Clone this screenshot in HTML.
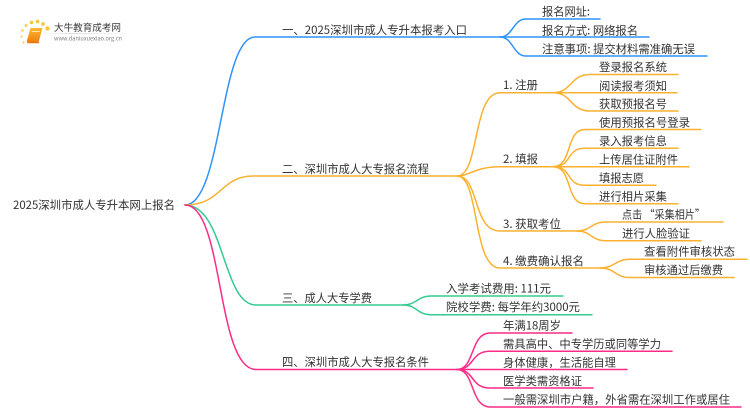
<!DOCTYPE html>
<html lang="zh"><head><meta charset="utf-8"><style>
html,body{margin:0;padding:0;background:#fff;width:750px;height:410px;overflow:hidden}
svg{display:block}
text{font-family:"Noto Sans CJK SC","DejaVu Sans",sans-serif;font-size:11.4px;fill:#333;dominant-baseline:central}
path{fill:none;stroke-width:1.5;stroke-linecap:round}
.b path{stroke:#2f93fb}.o path{stroke:#fbb12f}.g path{stroke:#35cb90}.p path{stroke:#fb2c85}
</style></head><body>
<svg width="750" height="410" viewBox="0 0 750 410" xmlns="http://www.w3.org/2000/svg">
<defs>
<linearGradient id="lg" x1="0" y1="0" x2="1" y2="0"><stop offset="0" stop-color="#ddd" stop-opacity="0"/><stop offset=".3" stop-color="#ddd"/><stop offset="1" stop-color="#ddd" stop-opacity="0"/></linearGradient>
<linearGradient id="bk" x1="0" y1="0" x2="0" y2="1"><stop offset="0" stop-color="#fdb92f"/><stop offset="1" stop-color="#ee7d10"/></linearGradient>
</defs>
<!-- logo -->
<g fill="#fbc63f">
<circle cx="47.5" cy="28.5" r="2.2"/><circle cx="43" cy="24" r="1.9"/><circle cx="37.5" cy="21.5" r="1.9"/><circle cx="31.5" cy="22.5" r="1.8"/><circle cx="26" cy="25.5" r="1.4"/><circle cx="22.5" cy="30.5" r="1.2"/><circle cx="21.5" cy="36.5" r="1"/><circle cx="23.5" cy="42.5" r="1"/>
</g>
<path d="M30.5 28H42.5L38.5 42.5H27.5Q26.5 42.5 27 40.5Z" style="fill:url(#bk);stroke:none"/>
<path d="M28 42.5H38.5" style="stroke:#e9760f"/>
<path d="M32 31.5H39.5" style="stroke:#ffe9a8;stroke-width:1"/>
<rect x="45" y="33" width="88" height="1" fill="url(#lg)"/>
<text x="54" y="27" style="font-size:9.7px;fill:#3c3c3c" textLength="67" lengthAdjust="spacingAndGlyphs">大牛教育成考网</text>
<text x="54" y="38.5" style="font-size:5.6px;fill:#808080" textLength="68" lengthAdjust="spacingAndGlyphs">www.daniuxuexiao.org.cn</text>

<g class="b">
<path d="M185 205C222 205 220 37 255 37H500"/>
<path d="M500 37C513 37 513 19 526 19H600"/>
<path d="M500 37H649"/>
<path d="M500 37C513 37 513 56 526 56H707"/>
</g>
<g class="o">
<path d="M185 205C222 205 220 176 253 176H457"/>
<path d="M457 176C480 176 472 92.7 500 92.7H553"/>
<path d="M457 176C470 176 475 166.7 500 166.7H553"/>
<path d="M457 176C480 176 472 231 500 231H577"/>
<path d="M457 176C480 176 472 268 500 268H600"/>
<path d="M553 92.7C572 92.7 570 74.5 590 74.5H678"/>
<path d="M553 92.7H677"/>
<path d="M553 92.7C572 92.7 570 111 590 111H678"/>
<path d="M553 166.7C573 166.7 565 129.5 585 129.5H701"/>
<path d="M553 166.7C573 166.7 565 148.3 585 148.3H678"/>
<path d="M553 166.7H689"/>
<path d="M553 166.7C573 166.7 565 185.3 585 185.3H656"/>
<path d="M553 166.7C573 166.7 565 203.7 585 203.7H678"/>
<path d="M577 231C591 231 591 222 606 222H723"/>
<path d="M577 231C591 231 591 240.7 606 240.7H701"/>
<path d="M600 268C615 268 615 259.3 630 259.3H747"/>
<path d="M600 268C615 268 615 277.5 630 277.5H734"/>
</g>
<g class="g">
<path d="M185 205C225 205 222 305 256 305H403"/>
<path d="M403 305C417 305 417 296 431 296H563"/>
<path d="M403 305C417 305 417 314.7 431 314.7H592"/>
</g>
<g class="p">
<path d="M185 205C224 205 216 369.5 256 369.5H457"/>
<path d="M457 369.5C475 369.5 470 333 490 333H572"/>
<path d="M457 369.5C475 369.5 470 351.3 490 351.3H672"/>
<path d="M457 369.5H627"/>
<path d="M457 369.5C475 369.5 470 388 490 388H593"/>
<path d="M457 369.5C475 369.5 470 407 490 407H741"/>
</g>

<text x="13" y="205" textLength="162" lengthAdjust="spacingAndGlyphs">2025深圳市成人专升本网上报名</text>
<text x="282" y="30" textLength="185" lengthAdjust="spacingAndGlyphs">一、2025深圳市成人专升本报考入口</text>
<text x="282" y="169" textLength="147" lengthAdjust="spacingAndGlyphs">二、深圳市成人大专报名流程</text>
<text x="282" y="298" textLength="90" lengthAdjust="spacingAndGlyphs">三、成人大专学费</text>
<text x="282" y="362" textLength="147" lengthAdjust="spacingAndGlyphs">四、深圳市成人大专报名条件</text>

<text x="542" y="11.7" textLength="48" lengthAdjust="spacingAndGlyphs">报名网址:</text>
<text x="542" y="30.3" textLength="96" lengthAdjust="spacingAndGlyphs">报名方式: 网络报名</text>
<text x="542" y="49" textLength="153" lengthAdjust="spacingAndGlyphs">注意事项: 提交材料需准确无误</text>

<text x="503" y="85" textLength="35" lengthAdjust="spacingAndGlyphs">1. 注册</text>
<text x="503" y="159" textLength="35" lengthAdjust="spacingAndGlyphs">2. 填报</text>
<text x="503" y="224" textLength="58" lengthAdjust="spacingAndGlyphs">3. 获取考位</text>
<text x="503" y="261" textLength="81" lengthAdjust="spacingAndGlyphs">4. 缴费确认报名</text>

<text x="599" y="67" textLength="68" lengthAdjust="spacingAndGlyphs">登录报名系统</text>
<text x="599" y="86" textLength="68" lengthAdjust="spacingAndGlyphs">阅读报考须知</text>
<text x="599" y="104" textLength="68" lengthAdjust="spacingAndGlyphs">获取预报名号</text>
<text x="599" y="122.5" textLength="91" lengthAdjust="spacingAndGlyphs">使用预报名号登录</text>
<text x="599" y="141" textLength="68" lengthAdjust="spacingAndGlyphs">录入报考信息</text>
<text x="599" y="159.5" textLength="79" lengthAdjust="spacingAndGlyphs">上传居住证附件</text>
<text x="599" y="178" textLength="45" lengthAdjust="spacingAndGlyphs">填报志愿</text>
<text x="599" y="196.5" textLength="68" lengthAdjust="spacingAndGlyphs">进行相片采集</text>
<text x="622" y="214.7" textLength="83" lengthAdjust="spacingAndGlyphs">点击 “采集相片”</text>
<text x="622" y="233.5" textLength="68" lengthAdjust="spacingAndGlyphs">进行人脸验证</text>
<text x="644" y="251.3" textLength="91" lengthAdjust="spacingAndGlyphs">查看附件审核状态</text>
<text x="644" y="270" textLength="79" lengthAdjust="spacingAndGlyphs">审核通过后缴费</text>

<text x="446" y="288.7" textLength="105" lengthAdjust="spacingAndGlyphs">入学考试费用: 111元</text>
<text x="446" y="307" textLength="134" lengthAdjust="spacingAndGlyphs">院校学费: 每学年约3000元</text>

<text x="503" y="325.5" textLength="58" lengthAdjust="spacingAndGlyphs">年满18周岁</text>
<text x="503" y="344" textLength="158" lengthAdjust="spacingAndGlyphs">需具高中、中专学历或同等学力</text>
<text x="503" y="362.5" textLength="113" lengthAdjust="spacingAndGlyphs">身体健康，生活能自理</text>
<text x="503" y="381" textLength="79" lengthAdjust="spacingAndGlyphs">医学类需资格证</text>
<text x="503" y="399.5" textLength="227" lengthAdjust="spacingAndGlyphs">一般需深圳市户籍，外省需在深圳工作或居住</text>
</svg>
</body></html>
